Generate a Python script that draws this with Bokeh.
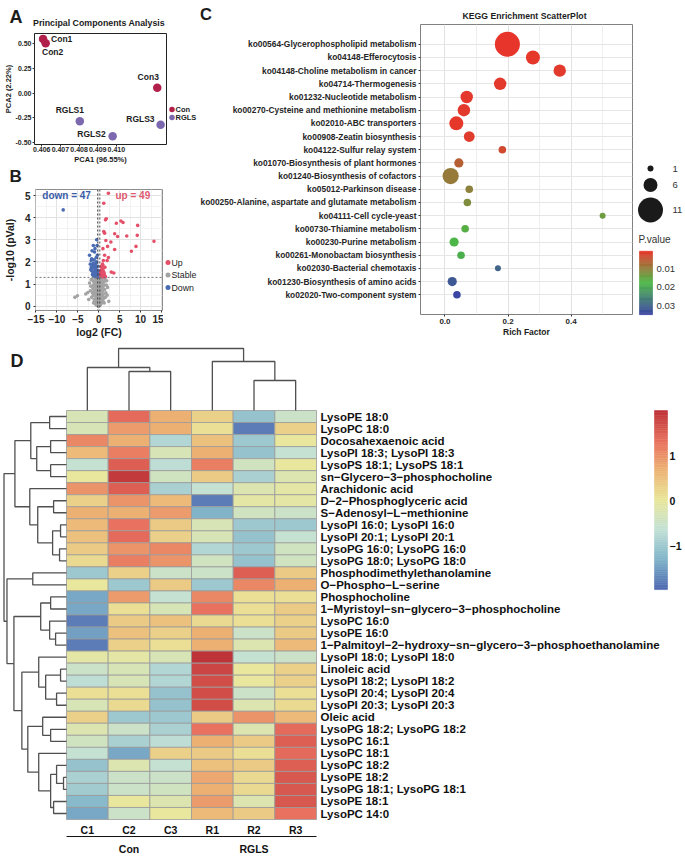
import numpy as np
from bokeh.plotting import figure
from bokeh.models import (Range1d, FactorRange, FixedTicker, ColumnDataSource, Span,
                          PrintfTickFormatter)
from bokeh.layouts import column, row
from bokeh.embed import file_html
from bokeh.resources import INLINE
from bokeh.core.properties import value
from bokeh.transform import linear_cmap

# ====================== DATA ======================
# Panel A - PCA scores
pca_samples = ["Con1", "Con2", "Con3", "RGLS1", "RGLS2", "RGLS3"]
pca_groups = ["Con", "Con", "Con", "RGLS", "RGLS", "RGLS"]
pca_pc1 = [0.40607, 0.40621, 0.41219, 0.40804, 0.40980, 0.41237]
pca_pc2 = [0.550, 0.506, 0.053, -0.287, -0.439, -0.323]
pca_x_ticks = [0.406, 0.407, 0.408, 0.409, 0.410]
pca_y_ticks = [-0.50, -0.25, 0.00, 0.25, 0.50]

# Panel B - volcano plot
up_x = [2.3, 1.2, 1.8, 1.6, 4.2, 5.3, 5.8, 9.3, 1.2, 1.4, 3.8, 4.5, 6.7, 9.2, 13.2, 2.9,
        1.7, 2.1, 3.8, 8.9, 7.8, 1.0, 1.4, 2.3, 1.1, 2.0, 1.0, 1.5, 1.0, 0.6, 1.2, 3.0,
        3.6, 0.8, 1.4, 0.6, 1.0, 0.5, 0.7, 0.9, 1.3, 0.5, 0.8, 1.1, 0.6, 0.4, 0.9, 1.6, 0.45]
up_y = [5.1, 4.65, 3.95, 3.9, 3.75, 3.85, 3.78, 3.65, 3.37, 3.3, 3.27, 3.15, 3.17, 3.2, 2.93, 2.9,
        2.97, 2.7, 2.56, 2.7, 2.48, 2.6, 2.3, 2.2, 2.06, 2.06, 1.84, 1.76, 1.6, 1.54, 1.54, 1.54,
        1.5, 1.43, 1.39, 1.34, 1.68, 1.79, 1.45, 1.36, 1.48, 1.62, 1.7, 1.32, 1.38, 1.41, 1.9, 1.33, 1.5]
down_x = [-8.5, -0.5, -1.3, -0.4, -0.9, -1.7, -1.8, -1.1, -2.0, -1.5, -0.9, -0.5, -1.8, -1.3, -0.7, -0.3,
          -1.7, -1.1, -0.5, -0.15, -1.4, -0.9, -0.4, -1.3, -0.8, -0.2, -2.2, -1.6, -1.0, -0.6, -0.35, -1.9,
          -1.2, -0.75, -0.45, -1.5, -1.0, -0.6, -0.3, -1.25, -0.85, -0.55, -0.25, -1.05, -0.65, -0.4, -0.3]
down_y = [4.35, 3.0, 2.74, 2.74, 2.6, 2.14, 2.06, 2.1, 1.9, 1.88, 1.9, 2.0, 1.76, 1.73, 1.76, 1.8,
          1.6, 1.58, 1.6, 1.56, 1.49, 1.46, 1.46, 1.39, 1.39, 1.39, 2.3, 2.5, 2.45, 2.2, 2.3, 1.65,
          1.95, 1.7, 1.52, 1.42, 1.35, 1.33, 1.5, 1.55, 1.68, 1.45, 1.62, 1.8, 1.95, 1.36, 1.32]
stable_x = [-5.7, -5.1, -3.1, 2.4, -2.6, 2.1, -2.2, 1.9, -1.9, 1.7, -1.6, -1.4, -1.3, -1.2, -1.1, -1.0,
            -0.9, -0.9, -0.8, -0.8, -0.7, -0.7, -0.6, -0.6, -0.6, -0.5, -0.5, -0.45, -0.4, -0.4, -0.35,
            -0.3, -0.3, -0.25, -0.25, -0.2, -0.15, -0.15, -0.1, -0.1, -0.05, 0.0, 0.0, 0.05, 0.05, 0.1,
            0.1, 0.15, 0.2, 0.2, 0.25, 0.25, 0.3, 0.35, 0.35, 0.4, 0.45, 0.5, 0.5, 0.55, 0.6, 0.65, 0.7,
            0.75, 0.8, 0.85, 0.9, 1.0, 1.05, 1.1, 1.2, 1.3, 1.4, 1.5, -1.7, -2.0, 1.6, -0.55, -0.2, 0.15,
            -0.35, 0.3, -0.75, 0.65, -1.0, 1.0, -0.1, 0.0, -0.45, 0.45,
            -1.0, -0.85, -0.65, -0.55, -0.4, -0.3, -0.2, -0.2, -0.1, -0.05, 0.0, 0.05, 0.1, 0.15, 0.2,
            0.25, 0.3, 0.35, 0.4, 0.45, 0.55, 0.6, 0.7, 0.8, 0.9, 1.1, 1.25, -1.15, -1.3, -1.5,
            -0.75, -0.6, -0.45, -0.35, -0.15, -0.05, 0.05, 0.1, 0.2, 0.3, 0.4, 0.5, 0.6, 0.75, 0.95,
            -0.95, -0.25, 0.15, -0.5, 0.0, -2.4, 1.8, -1.8, 2.0, -0.1, 0.35, -0.7, 0.65, 1.3, -1.25]
stable_y = [0.40, 0.47, 0.55, 0.22, 0.62, 0.85, 1.05, 1.15, 0.9, 0.6, 1.2, 0.8, 0.5, 1.1, 0.3, 0.95,
            0.65, 1.25, 0.15, 0.45, 0.85, 1.15, 0.05, 0.35, 0.6, 0.95, 1.28, 0.2, 0.5, 0.75, 1.05,
            0.1, 0.4, 0.65, 0.9, 1.2, 0.02, 0.3, 0.55, 0.8, 1.1, 0.15, 0.45, 0.7, 1.0, 1.25,
            0.25, 0.6, 0.05, 0.85, 0.4, 1.15, 0.7, 0.2, 0.95, 0.5, 1.2, 0.1, 0.8, 0.35, 1.05, 0.6, 0.2,
            0.9, 1.25, 0.45, 0.7, 1.1, 0.3, 0.55, 0.95, 0.15, 0.75, 1.2, 0.4, 0.7, 0.4, 0.25, 0.45, 0.35,
            0.8, 1.1, 1.0, 0.95, 0.6, 0.85, 0.0, 0.6, 0.6, 0.65,
            0.2, 0.55, 0.75, 1.1, 0.25, 0.85, 0.15, 0.7, 0.35, 0.9, 1.2, 0.1, 0.5, 0.95, 0.3,
            0.75, 0.05, 0.55, 1.0, 0.3, 0.85, 0.15, 0.5, 0.3, 1.0, 0.75, 0.4, 0.7, 0.95, 0.6,
            0.3, 0.85, 1.15, 0.45, 0.6, 0.25, 0.4, 0.85, 1.05, 0.45, 0.1, 0.6, 0.4, 0.65, 0.2,
            1.1, 1.0, 0.15, 0.45, 0.75, 0.3, 0.95, 1.2, 0.5, 1.27, 1.27, 0.1, 1.2, 1.1, 0.15]
volc_x_ticks = [-15, -10, -5, 0, 5, 10, 15]
volc_y_ticks = [0, 1, 2, 3, 4, 5]
volc_classes = ["Up", "Stable", "Down"]
fc_cut = 0.26
p_cut = 0.05

# Panel C - KEGG enrichment
kegg_terms = ["ko00564-Glycerophospholipid metabolism", "ko04148-Efferocytosis",
              "ko04148-Choline metabolism in cancer", "ko04714-Thermogenesis",
              "ko01232-Nucleotide metabolism", "ko00270-Cysteine and methionine metabolism",
              "ko02010-ABC transporters", "ko00908-Zeatin biosynthesis",
              "ko04122-Sulfur relay system", "ko01070-Biosynthesis of plant hormones",
              "ko01240-Biosynthesis of cofactors", "ko05012-Parkinson disease",
              "ko00250-Alanine, aspartate and glutamate metabolism", "ko04111-Cell cycle-yeast",
              "ko00730-Thiamine metabolism", "ko00230-Purine metabolism",
              "ko00261-Monobactam biosynthesis", "ko02030-Bacterial chemotaxis",
              "ko01230-Biosynthesis of amino acids", "ko02020-Two-component system"]
kegg_rich = [0.198, 0.279, 0.364, 0.175, 0.069, 0.060, 0.036, 0.077, 0.182, 0.044,
             0.018, 0.077, 0.071, 0.500, 0.064, 0.029, 0.051, 0.168, 0.023, 0.038]
kegg_count = [11, 6, 5, 5, 5, 5, 6, 4, 2, 3, 7, 2, 2, 1, 2, 3, 2, 1, 3, 2]
kegg_p = [0.0004, 0.0008, 0.0012, 0.0010, 0.0009, 0.0011, 0.0007, 0.0014, 0.0030, 0.0060,
          0.0095, 0.0105, 0.0120, 0.0140, 0.0165, 0.0180, 0.0190, 0.0300, 0.0320, 0.0350]
kegg_size_breaks = [1, 6, 11]
kegg_p_breaks = [0.01, 0.02, 0.03]
kegg_x_ticks = [0.0, 0.2, 0.4]

# Panel D - heatmap (row z-scores)
hm_samples = ["C1", "C2", "C3", "R1", "R2", "R3"]
hm_sample_group = ["Con", "Con", "Con", "RGLS", "RGLS", "RGLS"]
hm_groups = ["Con", "RGLS"]
hm_metabolites = ["LysoPE 18:0", "LysoPC 18:0", "Docosahexaenoic acid", "LysoPI 18:3; LysoPI 18:3",
                  "LysoPS 18:1; LysoPS 18:1", "sn\u2212Glycero\u22123\u2212phosphocholine", "Arachidonic acid",
                  "D\u22122\u2212Phosphoglyceric acid", "S\u2212Adenosyl\u2212L\u2212methionine",
                  "LysoPI 16:0; LysoPI 16:0", "LysoPI 20:1; LysoPI 20:1", "LysoPG 16:0; LysoPG 16:0",
                  "LysoPG 18:0; LysoPG 18:0", "Phosphodimethylethanolamine", "O\u2212Phospho\u2212L\u2212serine",
                  "Phosphocholine", "1\u2212Myristoyl\u2212sn\u2212glycero\u22123\u2212phosphocholine",
                  "LysoPC 16:0", "LysoPE 16:0",
                  "1\u2212Palmitoyl\u22122\u2212hydroxy\u2212sn\u2212glycero\u22123\u2212phosphoethanolamine",
                  "LysoPI 18:0; LysoPI 18:0", "Linoleic acid", "LysoPI 18:2; LysoPI 18:2",
                  "LysoPI 20:4; LysoPI 20:4", "LysoPI 20:3; LysoPI 20:3", "Oleic acid",
                  "LysoPG 18:2; LysoPG 18:2", "LysoPC 16:1", "LysoPC 18:1", "LysoPC 18:2", "LysoPE 18:2",
                  "LysoPG 18:1; LysoPG 18:1", "LysoPE 18:1", "LysoPC 14:0"]
hm_values = [
    [-0.3, 1.4, 0.7, 0.3, -1.1, -0.5],
    [-0.3, 0.9, 0.7, 0.1, -1.8, 0.3],
    [1.1, 0.7, -0.8, 0.5, -1.0, 0.0],
    [0.6, 1.2, -0.3, 0.7, -1.1, -0.6],
    [-0.6, 1.5, -0.7, 1.2, -0.4, 0.0],
    [0.0, 1.9, -0.4, 0.4, -0.9, -0.2],
    [1.0, 1.5, -0.9, -0.6, -0.2, -0.1],
    [0.3, 1.0, 0.6, -1.8, -0.1, -0.1],
    [0.7, 0.7, 0.9, -1.3, -0.4, -0.5],
    [0.6, 1.3, 0.4, -0.3, -1.0, -1.0],
    [0.5, 1.4, 0.3, -0.3, -1.1, -0.6],
    [0.4, 1.0, 1.1, -0.8, -1.0, -0.4],
    [0.2, 1.2, 1.0, -0.4, -1.1, -0.4],
    [-1.0, 0.3, -0.5, -0.5, 1.5, 0.4],
    [0.0, -1.0, 0.4, -1.0, 1.1, 0.7],
    [-1.4, 0.9, -0.6, 1.1, 0.1, 0.1],
    [-1.4, 0.1, -0.3, 1.3, 0.1, 0.4],
    [-1.8, 0.4, 0.5, 0.2, 0.1, 0.3],
    [-1.5, 0.5, 0.3, 0.7, -0.5, 0.4],
    [-1.8, 0.3, 0.1, 0.7, -0.2, 0.6],
    [-0.1, -0.1, -0.3, 2.0, -0.6, -0.5],
    [-0.5, -0.3, -0.8, 1.8, 0.0, 0.3],
    [-0.7, -0.3, -0.8, 1.7, 0.0, 0.3],
    [0.1, 0.1, -1.1, 1.7, -0.5, 0.1],
    [-0.3, 0.2, -1.1, 1.7, -0.2, 0.2],
    [0.3, -1.0, -1.0, 0.4, 1.0, 0.6],
    [-0.2, -0.5, -0.9, 1.3, -0.2, 1.4],
    [-0.4, -0.9, -0.7, 0.7, 0.4, 1.5],
    [-0.6, -1.4, 0.3, 0.4, 0.1, 1.4],
    [-1.1, -0.2, -0.6, 0.5, 0.4, 1.5],
    [-0.9, -0.5, -0.5, 0.8, 0.2, 1.6],
    [-0.95, -0.5, -0.4, 0.7, 0.2, 1.6],
    [-1.2, 0.0, -0.2, 0.9, -0.2, 1.6],
    [-1.4, -0.5, 0.0, 0.6, 0.4, 1.3],
]
# hierarchical clustering merges (child a, child b, merge height); leaves first, then new nodes
row_tree = [(0, 1, 17), (2, 3, 16), (4, 5, 16), (35, 36, 30), (34, 37, 36),
            (7, 8, 13), (9, 10, 6), (11, 12, 7), (40, 41, 14), (39, 42, 29), (6, 43, 37), (38, 44, 52),
            (13, 14, 34), (15, 16, 16), (18, 19, 11), (17, 48, 17), (47, 49, 26),
            (21, 22, 6), (23, 24, 10), (51, 52, 21), (20, 53, 28),
            (26, 27, 16), (25, 55, 24), (30, 31, 3), (29, 57, 10), (32, 33, 13), (58, 59, 16),
            (28, 60, 28), (56, 61, 39), (54, 62, 45), (50, 63, 53), (46, 64, 60), (45, 65, 63)]
col_tree = [(1, 2, 39), (0, 6, 43), (4, 5, 30), (3, 8, 49), (7, 9, 62)]
hm_limits = [-1.98, 2.0]
hm_cb_ticks = [1, 0, -1]

# ====================== STYLE / HELPERS ======================
FONT = "Liberation Sans"
INK = "#1c1c1c"


def lin_range(v1, p1, v2, p2, e_start, e_end):
    k = (v2 - v1) / (p2 - p1)
    return Range1d(start=v1 + (e_start - p1) * k, end=v1 + (e_end - p1) * k)


def base_fig(ox, oy, w, h, fl, ft, fr, fb, **kw):
    p = figure(width=w, height=h, output_backend="svg", toolbar_location=None, title=None,
               min_border_left=fl - ox, min_border_right=ox + w - fr,
               min_border_top=ft - oy, min_border_bottom=oy + h - fb, **kw)
    p.background_fill_color = "white"
    p.border_fill_color = "white"
    return p


def canvas_fig(x0, y0, w, h):
    p = figure(width=w, height=h, x_range=Range1d(x0, x0 + w), y_range=Range1d(y0 + h, y0),
               output_backend="svg", toolbar_location=None, title=None, min_border=0,
               x_axis_location=None, y_axis_location=None)
    p.outline_line_color = None
    p.grid.visible = False
    p.background_fill_color = "white"
    p.border_fill_color = "white"
    return p


def txt(p, xs, ys, texts, size, bold=False, align="left", color=INK, **kw):
    p.text(x=xs, y=ys, text=texts, text_align=align, text_baseline="middle", text_font=value(FONT),
           text_font_size=f"{size}px", text_font_style="bold" if bold else "normal",
           text_color=color, **kw)


def style_axes(axes, tick_px, label_px, out=2, standoff=1, label_standoff=0, bold=True,
               tick_color="#262626"):
    for ax in axes:
        ax.major_label_text_font = FONT
        ax.major_label_text_font_size = f"{tick_px}px"
        ax.major_label_text_font_style = "bold" if bold else "normal"
        ax.major_label_text_color = tick_color
        ax.axis_label_text_font = FONT
        ax.axis_label_text_font_size = f"{label_px}px"
        ax.axis_label_text_font_style = "bold"
        ax.axis_label_text_color = INK
        ax.major_tick_out = out
        ax.major_tick_in = 0
        ax.major_tick_line_color = "#333333"
        ax.minor_tick_line_color = None
        ax.major_label_standoff = standoff
        ax.axis_label_standoff = label_standoff
        ax.axis_line_color = None


def ramp(colors, n):
    cols = np.array([[int(c[i:i + 2], 16) for i in (1, 3, 5)] for c in colors], float)
    pos = np.linspace(0, 1, len(colors))
    out = []
    for t in np.linspace(0, 1, n):
        rgb = [int(round(np.interp(t, pos, cols[:, k]))) for k in range(3)]
        out.append("#%02x%02x%02x" % tuple(rgb))
    return out


def mid_ticks(ticks):
    step = ticks[1] - ticks[0]
    return [t + step / 2 for t in ticks]


def dendro(merges, n_leaves):
    pos = {i: i + 0.5 for i in range(n_leaves)}
    hgt = {i: 0.0 for i in range(n_leaves)}
    ps, hs = [], []
    for k, (a, b, h) in enumerate(merges):
        ps.append([pos[a], pos[a], pos[b], pos[b]])
        hs.append([hgt[a], h, h, hgt[b]])
        pos[n_leaves + k] = (pos[a] + pos[b]) / 2
        hgt[n_leaves + k] = h
    return ps, hs


# ====================== PANEL A ======================
hA = canvas_fig(0, 0, 197, 32)
txt(hA, [9], [16.5], ["A"], 18, bold=True)
txt(hA, [98.5], [22.5], ["Principal Components Analysis"], 8.8, bold=True, align="center")

grp_col = {"Con": "#B0204A", "RGLS": "#7C68AE"}
pA = base_fig(0, 32, 167, 135, 33, 33, 166, 144,
              x_range=lin_range(0.406, 40.3, 0.409, 96.7, 33, 166),
              y_range=lin_range(0.5, 43.3, -0.5, 141.7, 144, 33))
pA.xaxis.ticker = FixedTicker(ticks=pca_x_ticks)
pA.yaxis.ticker = FixedTicker(ticks=pca_y_ticks)
pA.xaxis.formatter = PrintfTickFormatter(format="%.3f")
pA.yaxis.formatter = PrintfTickFormatter(format="%.2f")
pA.xaxis.axis_label = "PCA1 (96.55%)"
pA.yaxis.axis_label = "PCA2 (2.22%)"
style_axes([pA.xaxis[0], pA.yaxis[0]], 7, 7.5, out=2, standoff=0, label_standoff=0)
pA.yaxis.major_label_standoff = 1
pA.grid.visible = False
pA.outline_line_color = "#222222"
pA.outline_line_width = 1

for g in hm_groups:
    idx = [i for i, gg in enumerate(pca_groups) if gg == g]
    pA.scatter([pca_pc1[i] for i in idx], [pca_pc2[i] for i in idx], size=8.5,
               fill_color=grp_col[g], line_color=None)
lab_dx = [8, 7, -9, -10, -7, -6]
lab_dy = [0, 9, -11, -11, -2, -6]
lab_al = ["left", "center", "center", "center", "right", "right"]
for i, s in enumerate(pca_samples):
    txt(pA, [pca_pc1[i]], [pca_pc2[i]], [s], 8.5, bold=True, align=lab_al[i],
        x_offset=lab_dx[i], y_offset=lab_dy[i])

lA = canvas_fig(167, 32, 30, 135)
legA_y = [109, 117]
lA.scatter([171.5] * len(hm_groups), legA_y, size=5.5, fill_color=[grp_col[g] for g in hm_groups],
           line_color=None)
txt(lA, [175] * len(hm_groups), legA_y, hm_groups, 7.5, bold=True)

# ====================== PANEL B ======================
hB = canvas_fig(0, 167, 197, 21)
txt(hB, [9], [176], ["B"], 17, bold=True)

pB = base_fig(0, 188, 163, 152, 33, 189, 162, 310,
              x_range=lin_range(-15, 33.5, 15, 161.0, 33, 162),
              y_range=lin_range(0, 305.7, 5, 195.0, 310, 189))
pB.xaxis.ticker = FixedTicker(ticks=volc_x_ticks, minor_ticks=mid_ticks(volc_x_ticks))
pB.yaxis.ticker = FixedTicker(ticks=volc_y_ticks, minor_ticks=mid_ticks(volc_y_ticks))
pB.xaxis.axis_label = "log2 (FC)"
pB.yaxis.axis_label = "-log10 (pVal)"
style_axes([pB.xaxis[0], pB.yaxis[0]], 10, 10.5, out=2, standoff=0, label_standoff=0)
pB.yaxis.major_label_standoff = 1
pB.yaxis.axis_label_standoff = 6
for gr in (pB.xgrid[0], pB.ygrid[0]):
    gr.grid_line_color = "#E2E2E2"
    gr.grid_line_width = 1
    gr.minor_grid_line_color = "#F0F0F0"
    gr.minor_grid_line_width = 0.8
pB.outline_line_color = "#8C8C8C"

for loc in (-fc_cut, fc_cut):
    pB.add_layout(Span(location=loc, dimension="height", line_dash="2 2", line_color="#444444", line_width=1))
pB.add_layout(Span(location=-np.log10(p_cut), dimension="width", line_dash="2 2", line_color="#777777",
                   line_width=1))
vol_col = {"Up": "#E4506A", "Stable": "#A3A3A3", "Down": "#4A6CB3"}
pB.scatter(stable_x, stable_y, size=3.6, fill_color=vol_col["Stable"], line_color=None)
pB.scatter(down_x, down_y, size=3.6, fill_color=vol_col["Down"], line_color=None)
pB.scatter(up_x, up_y, size=3.6, fill_color=vol_col["Up"], line_color=None)
txt(pB, [-13.5], [5.0], [f"down = {len(down_x)}"], 10, bold=True, color="#3B5CA8")
txt(pB, [4.0], [5.0], [f"up = {len(up_x)}"], 10, bold=True, color="#E05A70")

lB = canvas_fig(163, 188, 34, 152)
legB_y = [262, 274.5, 287]
lB.scatter([167.5] * 3, legB_y, size=5, fill_color=[vol_col[n] for n in volc_classes], line_color=None)
txt(lB, [171] * 3, legB_y, volc_classes, 8.8)

# ====================== PANEL C ======================
hC = canvas_fig(197, 0, 436, 23)
txt(hC, [199.5], [13.8], ["C"], 16.5, bold=True)
txt(hC, [524], [15], ["KEGG Enrichment ScatterPlot"], 8.7, bold=True, align="center")

pC = base_fig(197, 23, 436, 317, 418, 24, 632, 314,
              x_range=lin_range(0.0, 442.7, 0.4, 570.0, 418, 632),
              y_range=FactorRange(factors=kegg_terms[::-1], range_padding=1, range_padding_units="absolute"))
pC.xaxis.ticker = FixedTicker(ticks=kegg_x_ticks, minor_ticks=mid_ticks(kegg_x_ticks))
pC.xaxis.formatter = PrintfTickFormatter(format="%.1f")
pC.xaxis.axis_label = "Rich Factor"
style_axes([pC.xaxis[0], pC.yaxis[0]], 8.4, 8.5, out=2, standoff=0, label_standoff=0)
pC.xaxis.major_label_text_font_size = "8px"
pC.yaxis.major_label_standoff = 2
pC.xgrid.grid_line_color = "#E2E2E2"
pC.xgrid.minor_grid_line_color = "#EFEFEF"
pC.ygrid.grid_line_color = "#E6E6E6"
pC.outline_line_color = "#808080"

p_low, p_high = min(kegg_p), max(kegg_p)
p_palette = ramp(["#E8352B", "#4CB847", "#3B45A3"], 256)
diam = [6, 14, 25]
srcC = ColumnDataSource(dict(x=kegg_rich, y=kegg_terms, p=kegg_p,
                             s=list(np.interp(kegg_count, kegg_size_breaks, diam))))
pC.scatter("x", "y", source=srcC, size="s", line_color=None,
           fill_color=linear_cmap("p", p_palette, low=p_low, high=p_high))

# guides for C (size + colour)
pL = canvas_fig(633, 0, 51, 340)
pL.extra_y_ranges = {"pv": lin_range(0.01, 268.3, 0.03, 305.0, 340, 0)}
size_rows = [168, 184.5, 209.5]
pL.scatter([650] * len(kegg_size_breaks), size_rows,
           size=list(np.interp(kegg_size_breaks, kegg_size_breaks, diam)),
           fill_color="#1a1a1a", line_color=None)
txt(pL, [672] * len(kegg_size_breaks), size_rows, [str(b) for b in kegg_size_breaks], 9.5, color="#333333")
txt(pL, [638], [239], ["P.value"], 10, color="#333333")
edges = np.linspace(p_low, p_high, 70)
srcCB = ColumnDataSource(dict(b=edges[:-1], t=edges[1:], m=(edges[:-1] + edges[1:]) / 2))
pL.quad(left=639, right=652, bottom="b", top="t", source=srcCB, y_range_name="pv",
        fill_color=linear_cmap("m", p_palette, low=p_low, high=p_high),
        line_color=linear_cmap("m", p_palette, low=p_low, high=p_high), line_width=0.5)
txt(pL, [656] * len(kegg_p_breaks), kegg_p_breaks, ["%.2f" % b for b in kegg_p_breaks], 9.5,
    color="#333333", y_range_name="pv")

# ====================== PANEL D ======================
n_rows, n_cols = len(hm_metabolites), len(hm_samples)
hm_left, hm_top, cell_w, cell_h = 66.0, 410.0, 41.667, 12.03
pD = canvas_fig(0, 340, 684, 520)
pD.x_range = lin_range(0, hm_left, n_cols, hm_left + n_cols * cell_w, 0, 684)
pD.y_range = lin_range(0, hm_top, n_rows, hm_top + n_rows * cell_h, 860, 340)
pD.extra_x_ranges = {"rt": lin_range(0, hm_left, 63, 3.5, 0, 684)}
pD.extra_y_ranges = {"ct": lin_range(0, hm_top, 62, 348, 860, 340),
                     "cbv": lin_range(0, 500, 1, 455, 860, 340)}

hm_palette = ramp(["#4F6AB0", "#7FB3C9", "#C2E1D6", "#E9E79B", "#EDB474", "#E8705E", "#BE3338"], 100)
cells = dict(l=[], r=[], t=[], b=[], v=[])
for i in range(n_rows):
    for j in range(n_cols):
        cells["l"].append(j); cells["r"].append(j + 1)
        cells["t"].append(i); cells["b"].append(i + 1)
        cells["v"].append(hm_values[i][j])
pD.quad(left="l", right="r", top="t", bottom="b", source=ColumnDataSource(cells),
        fill_color=linear_cmap("v", hm_palette, low=hm_limits[0], high=hm_limits[1]),
        line_color="#9A9A9A", line_width=0.8)

cp, ch = dendro(col_tree, n_cols)
pD.multi_line(xs=cp, ys=ch, y_range_name="ct", line_color="#505050", line_width=1.3)
rp, rh = dendro(row_tree, n_rows)
pD.multi_line(xs=rh, ys=rp, x_range_name="rt", line_color="#505050", line_width=1.3)

txt(pD, [n_cols] * n_rows, [i + 0.5 for i in range(n_rows)], hm_metabolites, 11.5, bold=True,
    color="#111111", x_offset=4)

cb_x0 = (654 - hm_left) / cell_w
cb_x1 = (667 - hm_left) / cell_w
cbe = np.linspace(hm_limits[0], hm_limits[1], 101)
srcD = ColumnDataSource(dict(b=cbe[:-1], t=cbe[1:], m=(cbe[:-1] + cbe[1:]) / 2))
pD.quad(left=cb_x0, right=cb_x1, bottom="b", top="t", source=srcD, y_range_name="cbv",
        fill_color=linear_cmap("m", hm_palette, low=hm_limits[0], high=hm_limits[1]),
        line_color=linear_cmap("m", hm_palette, low=hm_limits[0], high=hm_limits[1]), line_width=0.5)
txt(pD, [(669 - hm_left) / cell_w] * len(hm_cb_ticks), hm_cb_ticks,
    [str(t).replace("-", "\u2212") for t in hm_cb_ticks], 10.5, bold=True, color="#111111",
    y_range_name="cbv")
txt(pD, [(10 - hm_left) / cell_w], [(360 - hm_top) / cell_h], ["D"], 18, bold=True)

# column labels, group bar and group names
txt(pD, [j + 0.5 for j in range(n_cols)], [n_rows] * n_cols, hm_samples, 10.5, bold=True,
    align="center", color="#111111", y_offset=10)
grp_line_y = n_rows + 17 / cell_h
pD.segment(x0=[0], y0=[grp_line_y], x1=[n_cols], y1=[grp_line_y], line_color="#111111", line_width=1)
grp_centers = [np.mean([j + 0.5 for j in range(n_cols) if hm_sample_group[j] == g]) for g in hm_groups]
txt(pD, grp_centers, [n_rows] * len(hm_groups), hm_groups, 10.5, bold=True, align="center",
    color="#111111", y_offset=29)

# nested wrappers keep every figure's own borders (no frame alignment between siblings)
left_col = column(row(hA), row(pA, column(lA)), row(hB), row(pB, column(lB)))
right_c = column(row(hC), row(pC))
page = column(row(left_col, right_c, column(pL)), row(pD))
open("out.html", "w").write(file_html(page, INLINE, "Figure"))
